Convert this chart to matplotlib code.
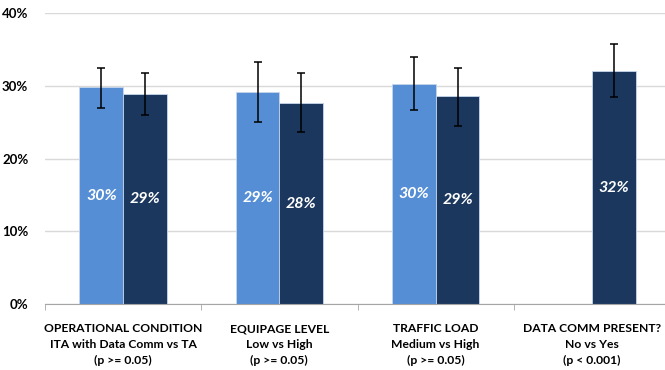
import numpy as np
import matplotlib
matplotlib.use("Agg")
import matplotlib.pyplot as plt

plt.rcParams["font.family"] = ["Lato", "DejaVu Sans"]

categories = [
    "OPERATIONAL CONDITION\nITA with Data Comm vs TA\n(p >= 0.05)",
    "EQUIPAGE LEVEL\nLow vs High\n(p >= 0.05)",
    "TRAFFIC LOAD\nMedium vs High\n(p >= 0.05)",
    "DATA COMM PRESENT?\nNo vs Yes\n(p < 0.001)",
]
first_vals = [29.8, 29.2, 30.2, np.nan]
first_hi = [32.5, 33.2, 34.0, np.nan]
first_lo = [27.0, 25.0, 26.6, np.nan]
second_vals = [28.8, 27.6, 28.6, 32.0]
second_hi = [31.7, 31.7, 32.5, 35.7]
second_lo = [26.0, 23.6, 24.5, 28.4]
yticks = [0, 10, 20, 30, 40]

light = "#558ED5"
dark = "#1B375E"

fig = plt.figure(figsize=(6.65, 3.70), dpi=100)
ax = fig.add_axes([45 / 665, 1 - 304 / 370, 625 / 665, 291 / 370])

x = np.arange(len(categories))
w = 0.28

def draw(offset, vals, hi, lo, color):
    vals = np.array(vals)
    err = np.array([vals - np.array(lo), np.array(hi) - vals])
    ax.bar(x + offset, vals, w, color=color, edgecolor="#C6D6EC", linewidth=0.6, zorder=2)
    ax.errorbar(x + offset, vals, yerr=err, fmt="none", ecolor="black",
                elinewidth=1.1, capsize=3, capthick=1.1, zorder=3)
    for xi, v in zip(x + offset, vals):
        if np.isnan(v):
            continue
        ax.text(xi, v / 2, f"{v:.0f}%", ha="center", va="center", color="white",
                fontsize=11.5, fontweight="bold", fontstyle="italic", zorder=4)

draw(-w / 2, first_vals, first_hi, first_lo, light)
draw(w / 2, second_vals, second_hi, second_lo, dark)

ax.set_xlim(-0.5, 3.5)
ax.set_ylim(0, 40)
ax.set_yticks(yticks)
ax.set_yticklabels([f"{t}%" for t in yticks], fontsize=9.5, fontweight="bold")
ax.tick_params(axis="y", length=0, pad=12)
ax.grid(axis="y", color="#D9D9D9", linewidth=1, zorder=0)
ax.set_axisbelow(True)

ax.set_xticks(x)
ax.set_xticklabels(categories, fontsize=8.7, fontweight="bold", linespacing=1.5)
ax.tick_params(axis="x", length=0, pad=14)
ax.set_xticks(np.arange(-0.5, 4, 1), minor=True)
ax.tick_params(axis="x", which="minor", length=4, color="#A6A6A6")

for s in ["top", "right", "left"]:
    ax.spines[s].set_visible(False)
ax.spines["bottom"].set_color("#A6A6A6")

fig.savefig("out.png", dpi=100)
